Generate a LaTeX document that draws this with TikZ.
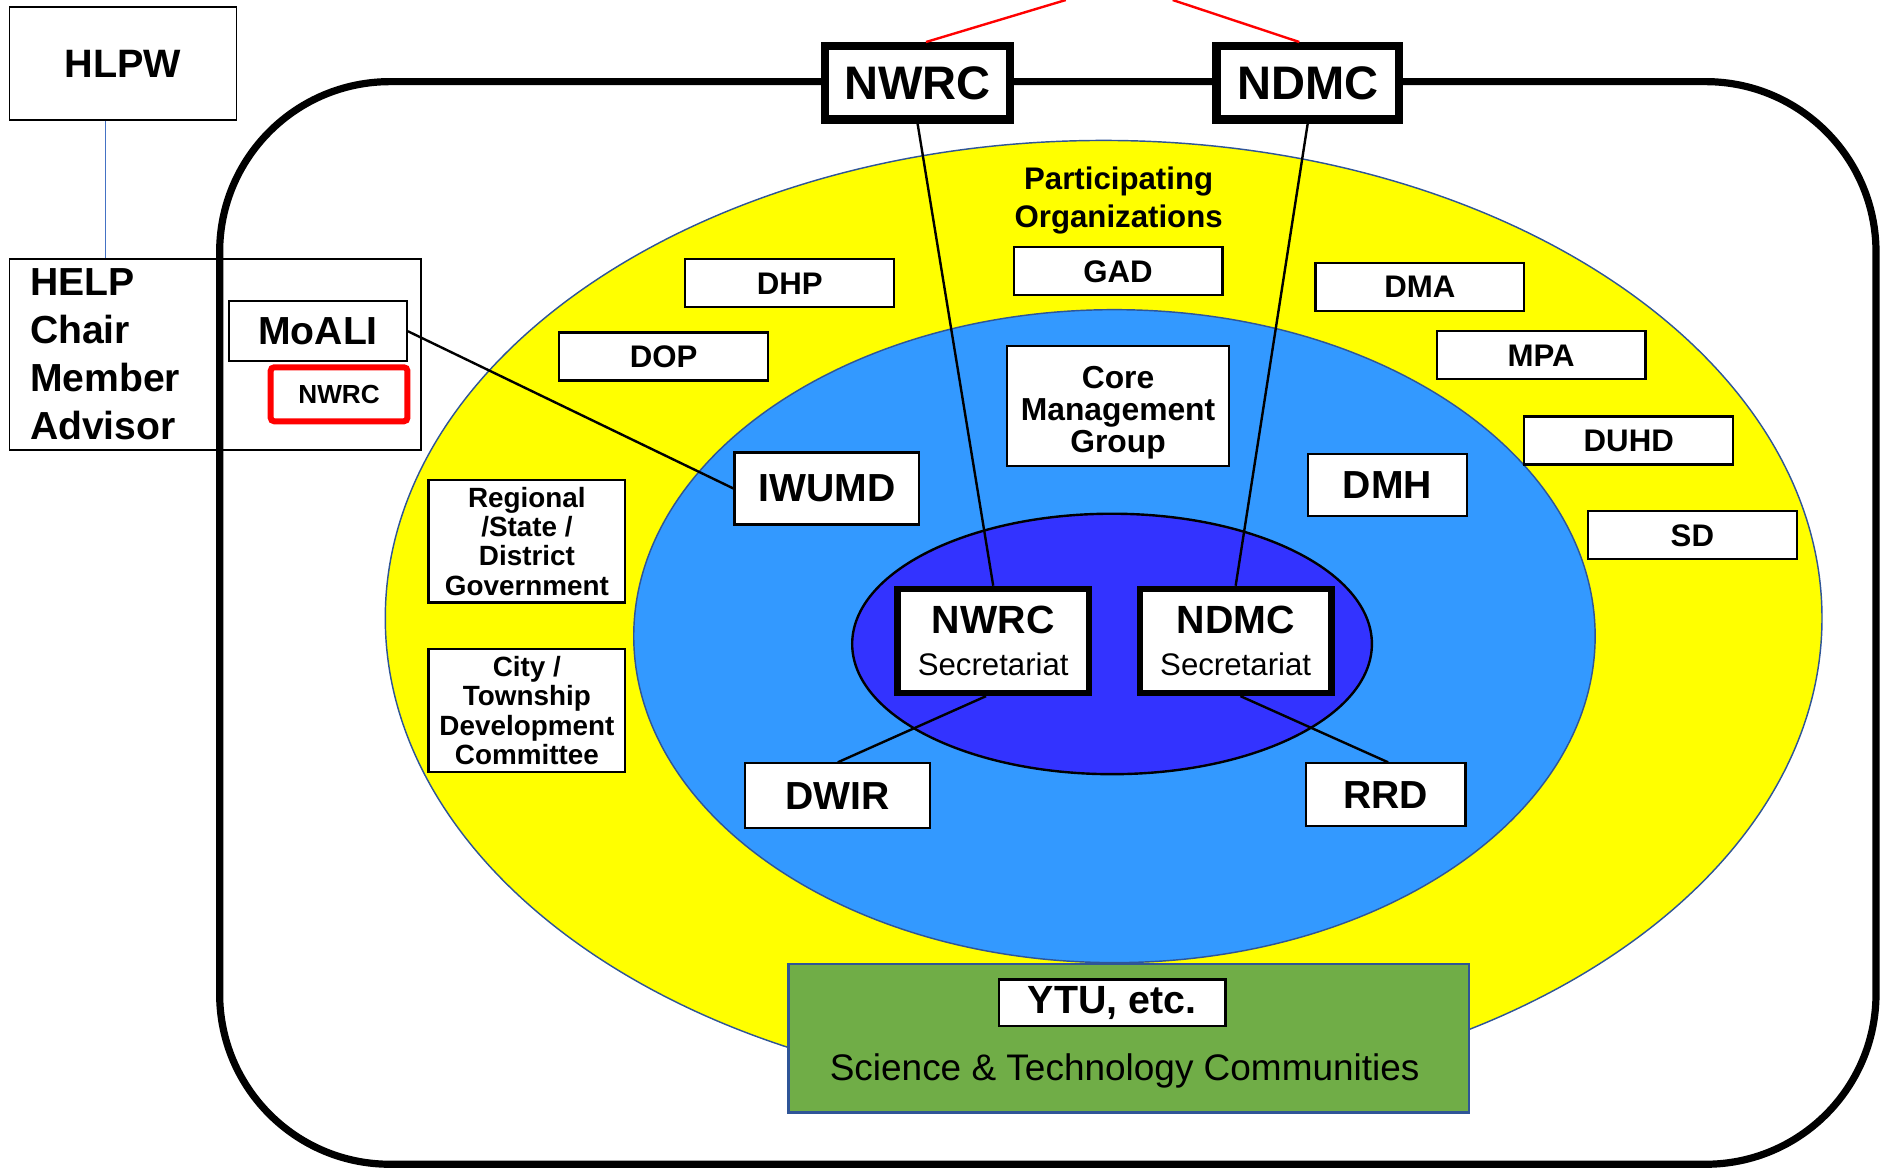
\documentclass[tikz,border=0pt]{standalone}
\usepackage{fontspec}
\setmainfont{Liberation Sans}
\usetikzlibrary{calc}
\definecolor{ylw}{HTML}{FFFF00}
\definecolor{lblue}{HTML}{3399FF}
\definecolor{dblue}{HTML}{3333FF}
\definecolor{grn}{HTML}{70AD47}
\definecolor{edgeblue}{HTML}{2F5597}
\definecolor{thinblue}{HTML}{4472C4}
\begin{document}
\begin{tikzpicture}[x=0.5pt,y=-0.5pt,
  orgbox/.style={draw, fill=white, line width=0.9pt, inner sep=0pt, align=center,
    font=\bfseries\fontsize{13pt}{13pt}\selectfont, minimum width=87pt, minimum height=20pt},
  bigbox/.style={draw, fill=white, line width=0.9pt, inner sep=0pt, align=center,
    font=\bfseries\fontsize{16.3pt}{16.3pt}\selectfont},
  govbox/.style={draw, fill=white, line width=0.9pt, inner sep=0pt, align=center,
    font=\bfseries\fontsize{11.6pt}{12.25pt}\selectfont, minimum width=82pt, minimum height=51pt},
  topbox/.style={draw, fill=white, line width=3.5pt, inner sep=0pt,
    font=\bfseries\fontsize{19.6pt}{19.6pt}\selectfont, minimum height=30.5pt},
  secbox/.style={draw, fill=white, line width=2.75pt, inner sep=0pt, align=center,
    font=\fontsize{13pt}{17.5pt}\selectfont, minimum width=79.75pt, minimum height=43.25pt},
  link/.style={line width=1pt},
  ring/.style={draw=edgeblue, line width=0.6pt}]
\useasboundingbox (0,0) rectangle (1568,976);
% outer frame
\draw[line width=3pt, rounded corners=71pt] (183,68) rectangle (1563,970);
% ellipses
\draw[ring, fill=ylw] (919.5,515) ellipse [x radius=299.25pt, y radius=199pt];
\draw[ring, fill=lblue] (928.5,530) ellipse [x radius=200.25pt, y radius=136pt];
\draw[line width=1pt, fill=dblue] (926.5,536.5) ellipse [x radius=108.25pt, y radius=54.25pt];
% left side
\node[draw, line width=0.7pt, inner sep=0pt, minimum width=94.5pt, minimum height=47pt,
  font=\bfseries\fontsize{16.5pt}{16.5pt}\selectfont] (hlpw) at (102.5,53) {HLPW};
\node[draw, line width=0.7pt, inner xsep=8.5pt, inner ysep=0pt, text width=154.5pt,
  minimum height=79.5pt, align=left, font=\bfseries\fontsize{16.3pt}{20pt}\selectfont]
  (help) at (179.5,295.5) {HELP\\Chair\\Member\\Advisor};
\draw[thinblue, line width=0.5pt] (88,0 |- hlpw.south) -- (88,0 |- help.north);
\node[bigbox, minimum width=74pt, minimum height=25pt] (moali) at (265,276) {MoALI};
\node[draw=red, line width=2.5pt, rounded corners=1.5pt, fill=white, inner sep=0pt,
  minimum width=57pt, minimum height=22.5pt, font=\bfseries\fontsize{10.9pt}{10.9pt}\selectfont]
  (mnwrc) at (282.5,328.5) {NWRC};
% top boxes and red lines
\coordinate (apexL) at (888,0);
\coordinate (apexR) at (977,0);
\node[topbox, minimum width=77pt] (tnwrc) at (764.5,69) {NWRC};
\node[topbox, minimum width=76pt] (tndmc) at (1089.5,69) {NDMC};
\draw[red, line width=1pt] ([xshift=3.5pt]tnwrc.north) -- (apexL);
\draw[red, line width=1pt] ([xshift=-3.5pt]tndmc.north) -- (apexR);
% participating organizations
\node[align=center, font=\bfseries\fontsize{13pt}{16pt}\selectfont] (part) at (932,167)
  {Participating\\Organizations};
\node[orgbox] (gad) at (931.5,226) {GAD};
\node[orgbox] (dhp) at (658,236) {DHP};
\node[orgbox] (dma) at (1183,239) {DMA};
\node[orgbox] (dop) at (553,297) {DOP};
\node[orgbox] (mpa) at (1284,296) {MPA};
\node[orgbox] (duhd) at (1357,367) {DUHD};
\node[orgbox] (sd) at (1410,446) {SD};
\node[govbox] (reg) at (439,451) {Regional\\/State /\\District\\Government};
\node[govbox] (city) at (439,592) {City /\\Township\\Development\\Committee};
% core management ring
\node[orgbox, font=\bfseries\fontsize{13.25pt}{13.25pt}\selectfont, minimum width=92.5pt,
  minimum height=50pt] (core) at (931.5,338) {\rule{0pt}{15pt}Core\\Management\\Group};
\node[bigbox, minimum width=77pt, minimum height=30pt] (iwumd) at (689,407) {IWUMD};
\node[bigbox, minimum width=66pt, minimum height=26pt] (dmh) at (1156,404) {DMH};
\node[bigbox, minimum width=77pt, minimum height=27pt] (dwir) at (698,663) {DWIR};
\node[bigbox, minimum width=66.5pt, minimum height=26pt] (rrd) at (1154.5,662) {RRD};
% secretariats
\node[secbox] (nwrcsec) at (827.5,534)
  {{\bfseries\fontsize{16.4pt}{17.5pt}\selectfont NWRC}\\Secretariat};
\node[secbox] (ndmcsec) at (1029.5,534)
  {{\bfseries\fontsize{16.4pt}{17.5pt}\selectfont NDMC}\\Secretariat};
% science & technology
\node[draw=edgeblue, line width=1pt, fill=grn, minimum width=283.5pt, minimum height=62pt,
  inner sep=0pt] (st) at (940.5,865) {};
\node[bigbox, minimum width=94.5pt, minimum height=19.5pt,
  font=\bfseries\fontsize{16.4pt}{16.4pt}\selectfont] (ytu) at (926.5,835.5) {YTU, etc.};
\node[font=\fontsize{15.4pt}{15.4pt}\selectfont, inner sep=0pt] (sci) at (937,892)
  {Science \& Technology Communities};
% connectors
\draw[link] (moali.east) -- (iwumd.west);
\draw[link] (tnwrc.south) -- (nwrcsec.north);
\draw[link] (tndmc.south) -- (ndmcsec.north);
\draw[link] ([xshift=-3pt]nwrcsec.south) -- (dwir.north);
\draw[link] ([xshift=2pt]ndmcsec.south) -- ([xshift=1pt]rrd.north);
\end{tikzpicture}
\end{document}
